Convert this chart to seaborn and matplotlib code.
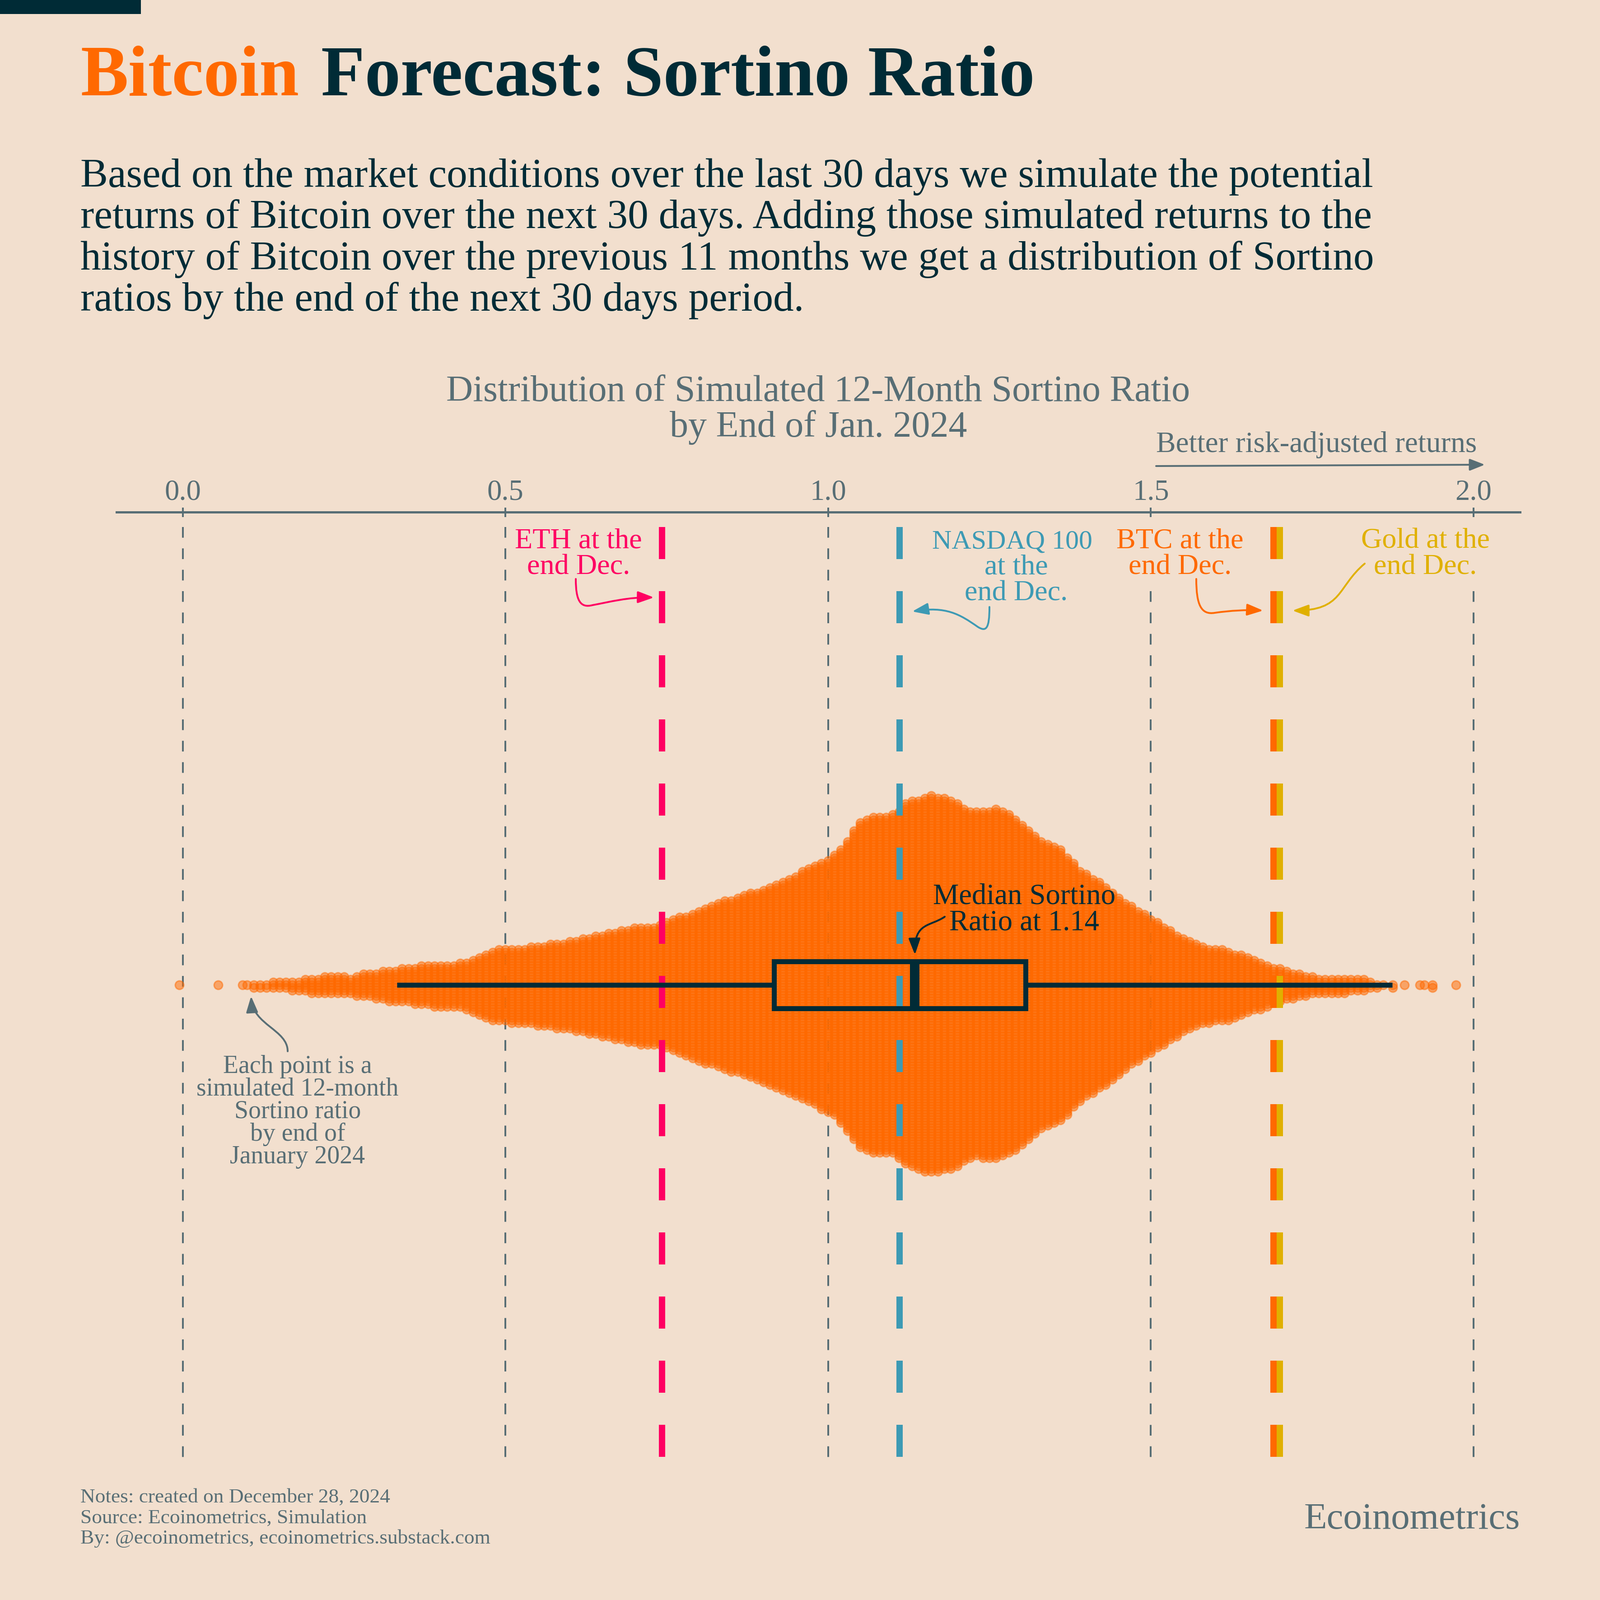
import warnings

import numpy as np
import matplotlib
matplotlib.use("Agg")
import matplotlib.pyplot as plt
from matplotlib.patches import FancyArrowPatch, Rectangle
from matplotlib.path import Path
from matplotlib.transforms import Affine2D
import seaborn as sns

warnings.simplefilter(action='ignore', category=UserWarning)

# Simulated ratios, rounded to 0.01: how many fall on each value from 0.10 up
first_bin = 0.10
bin_counts = [
    1, 2, 2, 2, 3, 3, 3, 4, 4, 5,
    6, 6, 7, 7, 7, 7, 6, 8, 9, 9,
    10, 11, 12, 12, 13, 13, 14, 15, 15, 16,
    16, 16, 16, 17, 18, 20, 22, 24, 26, 27,
    27, 28, 28, 28, 29, 30, 30, 31, 32, 32,
    33, 34, 35, 36, 37, 38, 39, 40, 41, 42,
    43, 44, 44, 44, 45, 47, 49, 51, 52, 54,
    56, 58, 59, 61, 63, 64, 65, 67, 69, 70,
    72, 74, 76, 78, 80, 82, 85, 87, 89, 92,
    94, 97, 102, 108, 115, 121, 123, 125, 125, 125,
    126, 129, 134, 136, 137, 139, 140, 139, 138, 137,
    135, 131, 129, 128, 129, 129, 130, 128, 126, 123,
    119, 115, 111, 107, 105, 103, 101, 96, 91, 86,
    83, 80, 77, 74, 70, 66, 62, 59, 56, 53,
    50, 47, 44, 41, 38, 35, 33, 31, 29, 28,
    27, 27, 26, 24, 23, 21, 19, 18, 16, 13,
    13, 11, 10, 9, 8, 7, 6, 6, 6, 6,
    6, 5, 5, 5, 3, 2, 1,
]
tail_values = [-0.005, 0.055, 0.093, 1.875, 1.875, 1.893, 1.917, 1.924, 1.936, 1.936, 1.973]

# Low whisker, quartiles, median and high whisker as the box shows them
box_summary = [0.332, 0.916, 1.134, 1.306, 1.874]

eth_level = 0.7425
nasdaq_level = 1.1105
btc_level = 1.690
gold_level = 1.700
tick_values = [0.0, 0.5, 1.0, 1.5, 2.0]
tick_labels = ["0.0", "0.5", "1.0", "1.5", "2.0"]

BG = '#f2dfce'
DARK = '#002b36'
GREY = '#586e75'
ORANGE = '#ff6900'
PINK = '#ff0062'
TEAL = '#3d9ab4'
GOLD = '#e0b000'

SIZE = 3543
DPI = 300


def px(n):
    # reference pixels to points
    return n * 72 / DPI


sims = np.concatenate([
    np.repeat(np.round(first_bin + np.arange(len(bin_counts)) * 0.01, 2), bin_counts),
    tail_values,
])

sns.set_theme(style="white", rc={
    "figure.facecolor": BG,
    "savefig.facecolor": BG,
    "axes.facecolor": "none",
    "lines.scale_dashes": False,
    "lines.solid_capstyle": "butt",
    "lines.dash_capstyle": "butt",
})
plt.rcParams['font.family'] = ['Liberation Serif', 'DejaVu Serif']

fig = plt.figure(figsize=(SIZE / DPI, SIZE / DPI), dpi=DPI)
ax = fig.add_axes([258 / SIZE, 1 - 3228 / SIZE, (3366 - 258) / SIZE, (3228 - 1134) / SIZE])
page = Affine2D().scale(1 / SIZE, -1 / SIZE).translate(0, 1) + fig.transFigure

# Swarm laid out with small dots, then the dots are blown up so they overlap
sns.swarmplot(x=sims, orient="h", size=px(5.7), linewidth=0, color=ORANGE, ax=ax, zorder=2)
sns.boxplot(
    x=box_summary, orient="h", width=0.05, whis=1.5, showfliers=False, showcaps=False,
    color=DARK, linecolor=DARK, linewidth=px(11), ax=ax, zorder=5,
    boxprops={'facecolor': 'none'},
    medianprops={'linewidth': px(21), 'color': DARK},
)

ax.set_xlim((258 - 404.5) / 1429.25, (3366 - 404.5) / 1429.25)
ax.set_ylim(0.5, -0.5)
ax.set_xlabel("")
ax.set_ylabel("")
ax.set_yticks([])

for side in ['left', 'right', 'bottom']:
    ax.spines[side].set_visible(False)
ax.spines['top'].set_color(GREY)
ax.spines['top'].set_linewidth(px(5))

ax.xaxis.tick_top()
ax.set_xticks(tick_values)
ax.set_xticklabels(tick_labels)
ax.tick_params(axis='x', direction='inout', length=px(21), width=px(4), color=GREY,
               labelcolor=GREY, labelsize=15.5, pad=px(3))

line_top = 1 - 33 / 2094
for tick in tick_values:
    ax.axvline(tick, line_top, 0, color=GREY, lw=px(4), zorder=1,
               linestyle=(0, (px(23.67), px(23.67))))
for level, colour in [(eth_level, PINK), (nasdaq_level, TEAL), (btc_level, ORANGE), (gold_level, GOLD)]:
    ax.axvline(level, line_top, 0, color=colour, lw=px(14), zorder=3,
               linestyle=(0, (px(71), px(71))))

fig.canvas.draw()
dots = ax.collections[0]
del dots.draw
dots.set_sizes([px(19) ** 2])
dots.set_linewidth(px(3))
dots.set_edgecolor(ORANGE)
dots.set_alpha(0.5)


def label(x, y, text, colour, size, ha='left', weight='normal', boxed=False):
    # boxed labels hide the grid line that runs behind them
    bbox = dict(facecolor=BG, edgecolor='none', pad=px(8)) if boxed else None
    fig.text(x, y, text, color=colour, fontsize=size, ha=ha, va='baseline',
             fontweight=weight, transform=page, bbox=bbox)


def curve(verts, colour, lw=4, head=(30, 11)):
    codes = [Path.MOVETO] + [Path.CURVE4] * (len(verts) - 1)
    fig.add_artist(FancyArrowPatch(
        path=Path(verts, codes), transform=page, color=colour, lw=px(lw),
        arrowstyle=f"-|>,head_length={px(head[0])},head_width={px(head[1])}",
        mutation_scale=1, shrinkA=0, shrinkB=0, zorder=4,
    ))


fig.add_artist(Rectangle((0, 0), 312, 31, transform=page, color=DARK, lw=0))

label(178, 211, "Bitcoin", ORANGE, 38, weight='bold')
label(711, 211, "Forecast: Sortino Ratio", DARK, 38, weight='bold')

subtitle = [
    "Based on the market conditions over the last 30 days we simulate the potential",
    "returns of Bitcoin over the next 30 days. Adding those simulated returns to the",
    "history of Bitcoin over the previous 11 months we get a distribution of Sortino",
    "ratios by the end of the next 30 days period.",
]
for line, y in zip(subtitle, [414, 505, 597, 688]):
    label(178, y, line, DARK, 21.9)

label(1812, 888, "Distribution of Simulated 12-Month Sortino Ratio", GREY, 19.7, ha='center')
label(1812, 967, "by End of Jan. 2024", GREY, 19.7, ha='center')

label(2560, 1001, "Better risk-adjusted returns", GREY, 15.7)
curve([(2560, 1032), (2800, 1031), (3050, 1030), (3288, 1029)], GREY, head=(28, 11))

label(1281, 1213, "ETH at the", PINK, 15.4, ha='center')
label(1281, 1272, "end Dec.", PINK, 15.4, ha='center')
curve([(1275, 1282), (1275, 1330), (1285, 1347), (1312, 1340),
       (1350, 1333), (1390, 1322), (1448, 1323)], PINK)

label(2241, 1214, "NASDAQ 100", TEAL, 14.4, ha='center')
label(2250, 1272, "at the", TEAL, 15.4, ha='center')
label(2250, 1330, "end Dec.", TEAL, 15.4, ha='center')
curve([(2191, 1344), (2191, 1392), (2184, 1400), (2165, 1388),
       (2125, 1360), (2095, 1342), (2020, 1354)], TEAL)

label(2613, 1214, "BTC at the", ORANGE, 15.4, ha='center', boxed=True)
label(2613, 1272, "end Dec.", ORANGE, 15.4, ha='center', boxed=True)
curve([(2649, 1282), (2649, 1340), (2660, 1362), (2690, 1357),
       (2725, 1352), (2760, 1350), (2797, 1352)], ORANGE)

label(3156, 1214, "Gold at the", GOLD, 15.4, ha='center', boxed=True)
label(3156, 1272, "end Dec.", GOLD, 15.4, ha='center', boxed=True)
curve([(3022, 1248), (2960, 1300), (2975, 1352), (2862, 1352)], GOLD)

label(2268, 2001, "Median Sortino", DARK, 15.5, ha='center')
label(2268, 2060, "Ratio at 1.14", DARK, 15.5, ha='center')
curve([(2092, 2030), (2060, 2052), (2024, 2042), (2026, 2114)], DARK)

notes = ["Each point is a", "simulated 12-month", "Sortino ratio", "by end of", "January 2024"]
for line, y in zip(notes, [2376, 2426, 2476, 2526, 2576]):
    label(659, y, line, GREY, 13.4, ha='center')
curve([(637, 2328), (637, 2280), (560, 2270), (556, 2206)], GREY)

footer = [
    "Notes: created on December 28, 2024",
    "Source: Ecoinometrics, Simulation",
    "By: @ecoinometrics, ecoinometrics.substack.com",
]
for line, y in zip(footer, [3327, 3373, 3418]):
    label(178, y, line, GREY, 10.9)
label(3366, 3385, "Ecoinometrics", GREY, 19.9, ha='right')

fig.savefig("out.png", dpi=DPI)
